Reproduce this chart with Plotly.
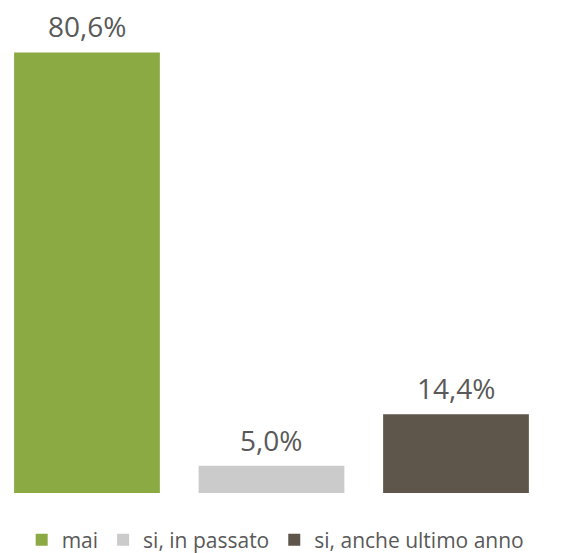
import plotly.graph_objects as go

categories = ['mai', 'si, in passato', 'si, anche ultimo anno']
values = [80.6, 5.0, 14.4]
labels = ['80,6%', '5,0%', '14,4%']
colors = ['#8CAA44', '#CBCBCB', '#5E564B']

fig = go.Figure()
for cat, val, col in zip(categories, values, colors):
    fig.add_trace(go.Bar(
        x=[cat], y=[val], name=cat,
        marker=dict(color=col, line=dict(width=0)),
        width=0.79,
    ))

# value labels above the bars
for cat, val, lab in zip(categories, values, labels):
    fig.add_annotation(
        x=cat, y=val, text=lab, showarrow=False,
        yanchor='bottom', yshift=5,
        font=dict(family='Open Sans', size=28, color='#595959'),
    )

fig.update_layout(
    width=560, height=553,
    margin=dict(l=0, r=0, t=0, b=62),
    barmode='overlay',
    plot_bgcolor='white', paper_bgcolor='white',
    showlegend=True,
    legend=dict(
        orientation='h', x=0.478, xanchor='center', y=-0.055, yanchor='top',
        font=dict(family='Open Sans', size=21, color='#595959'),
        itemwidth=30, traceorder='normal',
    ),
    xaxis=dict(range=[-0.428, 2.607], showgrid=False, showticklabels=False,
               zeroline=False, showline=False, categoryorder='array', categoryarray=categories),
    yaxis=dict(range=[0, 88.74], showgrid=False, showticklabels=False,
               zeroline=False, showline=False),
)

fig.write_html("out.html")
